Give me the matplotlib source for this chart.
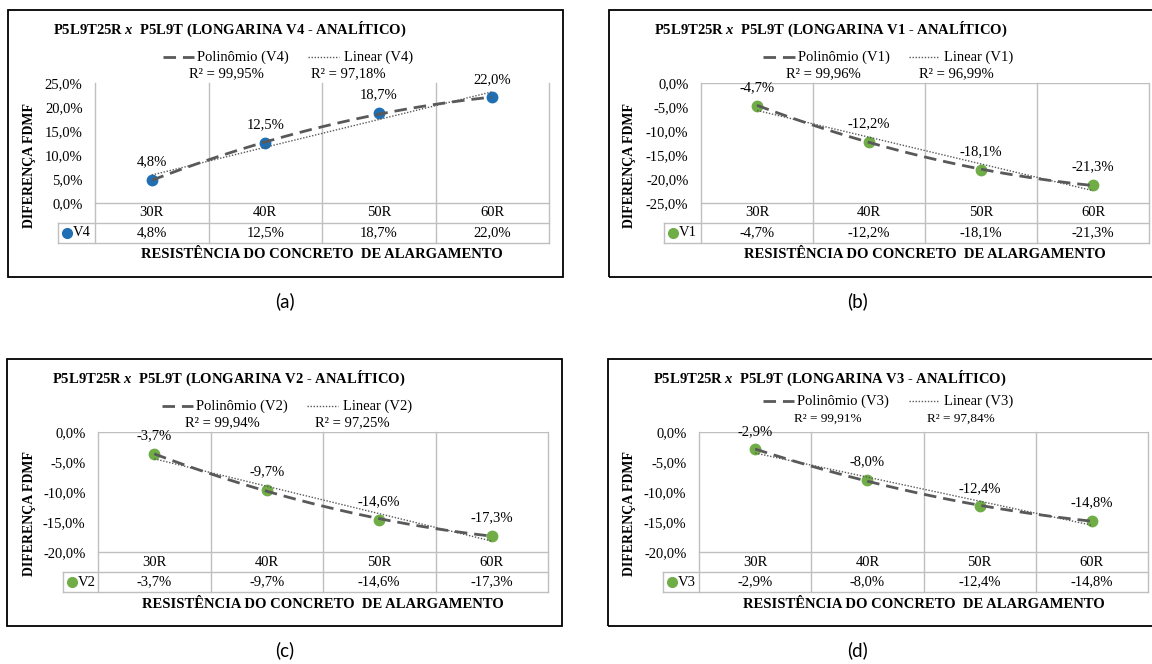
import numpy as np
import matplotlib.pyplot as plt
from matplotlib.lines import Line2D
from matplotlib.patches import Rectangle
from matplotlib.transforms import blended_transform_factory

plt.rcParams['font.family'] = ['Liberation Serif', 'DejaVu Serif']
plt.rcParams['mathtext.fontset'] = 'custom'
plt.rcParams['mathtext.rm'] = 'Liberation Serif:bold'
plt.rcParams['mathtext.it'] = 'Liberation Serif:italic:bold'

# data
categories = ['30R', '40R', '50R', '60R']
series_names = ['V4', 'V1', 'V2', 'V3']
v4 = [4.8, 12.5, 18.7, 22.0]
v1 = [-4.7, -12.2, -18.1, -21.3]
v2 = [-3.7, -9.7, -14.6, -17.3]
v3 = [-2.9, -8.0, -12.4, -14.8]
r2_poly = ['99,95%', '99,96%', '99,94%', '99,91%']
r2_lin = ['97,18%', '96,99%', '97,25%', '97,84%']
y_ticks = [np.arange(0, 26, 5), np.arange(-25, 1, 5), np.arange(-20, 1, 5), np.arange(-20, 1, 5)]
panel_labels = ['(a)', '(b)', '(c)', '(d)']

W, H = 1152, 664
BLUE = '#1F6FB5'
GREEN = '#70AD47'
GRID = '#BFBFBF'
TREND = '#595959'

fig = plt.figure(figsize=(11.52, 6.64), dpi=100)


def fx(x):
    return x / W


def fy(y):
    return 1 - y / H


def pct(v):
    return f"{v:.1f}%".replace('.', ',')


# horizontal layout of each panel (pixels)
panels = [
    dict(y0=10, box=(8, 563), title=53, plot=(95, 549), leg=58, ytit=30,
         dash=(163, 194), t1=197, dot=(308, 339), t2=344, r2=(226, 348),
         lab=285, leg_dy=47, r2_dy=64, r2_fs=10.5),
    dict(y0=10, box=(609, 1160), title=654, plot=(701, 1149), leg=664, ytit=630,
         dash=(763, 795), t1=798, dot=(909, 939), t2=944, r2=(823, 956),
         lab=858, leg_dy=47, r2_dy=64, r2_fs=10.5),
    dict(y0=359, box=(7, 562), title=52, plot=(98, 548), leg=63, ytit=30,
         dash=(162, 193), t1=196, dot=(307, 338), t2=343, r2=(222, 352),
         lab=285, leg_dy=47, r2_dy=64, r2_fs=10.5),
    dict(y0=359, box=(608, 1160), title=653, plot=(699, 1148), leg=663, ytit=630,
         dash=(763, 794), t1=797, dot=(909, 939), t2=944, r2=(828, 961),
         lab=858, leg_dy=42, r2_dy=60, r2_fs=9.5),
]
all_values = [v4, v1, v2, v3]
colors = [BLUE, GREEN, GREEN, GREEN]

x = np.arange(1, len(categories) + 1)
xs = np.linspace(1, len(categories), 100)

for i, p in enumerate(panels):
    vals = np.array(all_values[i])
    name = series_names[i]
    col = colors[i]
    y0 = p['y0']
    top, bot = y0 + 73, y0 + 193
    row_div, tab_bot = y0 + 213, y0 + 233
    pl, pr = p['plot']

    # frame around the chart
    fig.add_artist(Rectangle((fx(p['box'][0]), fy(y0 + 267)), fx(p['box'][1] - p['box'][0]),
                             267 / H, transform=fig.transFigure, fill=False,
                             edgecolor='black', lw=1.3))

    ax = fig.add_axes([fx(pl), fy(bot), fx(pr - pl), (bot - top) / H])
    ticks = y_ticks[i]
    ax.set_xlim(0.5, len(categories) + 0.5)
    ax.set_ylim(ticks[0], ticks[-1])
    ax.set_yticks(ticks)
    ax.set_yticklabels([pct(t) for t in ticks], fontsize=10.5)
    ax.set_xticks([])
    ax.tick_params(axis='y', length=0, pad=9)
    for s in ax.spines.values():
        s.set_visible(False)
    if ticks[-1] == 0:
        ax.axhline(0, color=GRID, lw=1)

    # trend lines
    poly = np.polyfit(x, vals, 2)
    lin = np.polyfit(x, vals, 1)
    ax.plot(xs, np.polyval(poly, xs), color=TREND, lw=2, dashes=(4.5, 2.5), zorder=4)
    ax.plot(xs, np.polyval(lin, xs), color=TREND, lw=1, linestyle=(0, (1, 1.2)), zorder=4)
    ax.plot(x, vals, 'o', color=col, ms=7.5, zorder=3)
    for xi, v in zip(x, vals):
        ax.annotate(pct(v), (xi, v), xytext=(0, 13), textcoords='offset points',
                    ha='center', va='center', fontsize=10.5)

    # data table
    bl = blended_transform_factory(ax.transData, fig.transFigure)
    for b in np.arange(0.5, len(categories) + 1, 1):
        ax.plot([b, b], [fy(top), fy(tab_bot)], color=GRID, lw=1, transform=bl,
                clip_on=False)
    ax.plot([0.5, len(categories) + 0.5], [fy(bot), fy(bot)], color=GRID, lw=1,
            transform=bl, clip_on=False)
    for yy in (row_div, tab_bot):
        fig.add_artist(Line2D([fx(p['leg']), fx(pr)], [fy(yy), fy(yy)], color=GRID, lw=1))
    fig.add_artist(Line2D([fx(p['leg']), fx(p['leg'])], [fy(row_div), fy(tab_bot)],
                          color=GRID, lw=1))
    for xi, c, v in zip(x, categories, vals):
        ax.text(xi, fy((bot + row_div) / 2), c, transform=bl, ha='center', va='center',
                fontsize=10.5)
        ax.text(xi, fy((row_div + tab_bot) / 2), pct(v), transform=bl, ha='center',
                va='center', fontsize=10.5)
    fig.add_artist(Line2D([fx(p['leg'] + 9)], [fy((row_div + tab_bot) / 2)], marker='o',
                          color=col, ms=7, lw=0))
    fig.text(fx(p['leg'] + 15), fy((row_div + tab_bot) / 2), name, ha='left', va='center',
             fontsize=10.5)

    # titles
    fig.text(fx(p['title']), fy(y0 + 19), f"P5L9T25R $x$  P5L9T (LONGARINA {name} - ANALÍTICO)",
             ha='left', va='center', fontsize=10.5, fontweight='bold')
    fig.text(fx((pl + pr) / 2), fy(y0 + 245), 'RESISTÊNCIA DO CONCRETO  DE ALARGAMENTO',
             ha='center', va='center', fontsize=10.5, fontweight='bold')
    fig.text(fx(p['ytit']), fy(y0 + 155), 'DIFERENÇA FDMF', rotation=90, ha='center',
             va='center', fontsize=10, fontweight='bold')

    # legend with R²
    ly = fy(y0 + p['leg_dy'])
    fig.add_artist(Line2D([fx(p['dash'][0]), fx(p['dash'][1])], [ly, ly], color=TREND,
                          lw=2, dashes=(4.5, 2.5)))
    fig.text(fx(p['t1']), ly, f'Polinômio ({name})', ha='left', va='center', fontsize=10.5)
    fig.add_artist(Line2D([fx(p['dot'][0]), fx(p['dot'][1])], [ly, ly], color=TREND,
                          lw=1, linestyle=(0, (1, 1.2))))
    fig.text(fx(p['t2']), ly, f'Linear ({name})', ha='left', va='center', fontsize=10.5)
    ry = fy(y0 + p['r2_dy'])
    fig.text(fx(p['r2'][0]), ry, f'R² = {r2_poly[i]}', ha='center', va='center',
             fontsize=p['r2_fs'])
    fig.text(fx(p['r2'][1]), ry, f'R² = {r2_lin[i]}', ha='center', va='center',
             fontsize=p['r2_fs'])

    fig.text(fx(p['lab']), fy(y0 + 291), panel_labels[i], ha='center', va='center',
             fontsize=13.5, family=['Lato', 'DejaVu Sans'])

fig.savefig('out.png', dpi=100)
